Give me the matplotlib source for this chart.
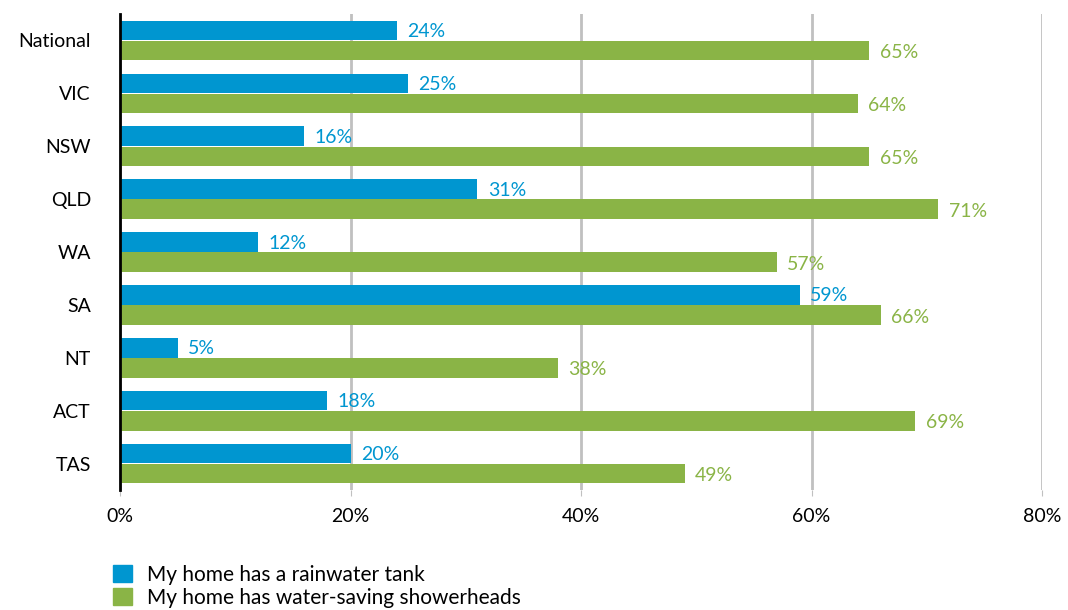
import matplotlib
matplotlib.use("Agg")
import matplotlib.pyplot as plt
import numpy as np
from matplotlib.patches import Patch

plt.rcParams['font.family'] = ['Lato', 'DejaVu Sans']

regions = ["National", "VIC", "NSW", "QLD", "WA", "SA", "NT", "ACT", "TAS"]
rainwater_tank = [24, 25, 16, 31, 12, 59, 5, 18, 20]
showerheads = [65, 64, 65, 71, 57, 66, 38, 69, 49]
x_ticks = [0, 20, 40, 60, 80]

blue = "#0096d0"
green = "#8ab446"

fig = plt.figure(figsize=(10.68, 6.10), dpi=100)
ax = fig.add_axes([0.1124, 0.1967, 0.8633, 0.7803])

y = np.arange(len(regions))
h = 0.37
off = 0.19

ax.barh(y - off, rainwater_tank, height=h, color=blue, zorder=3)
ax.barh(y + off, showerheads, height=h, color=green, zorder=3)

for yi, v in zip(y, rainwater_tank):
    ax.text(v + 0.9, yi - off + 0.02, f"{v}%", color=blue, fontsize=14,
            va="center", ha="left")
for yi, v in zip(y, showerheads):
    ax.text(v + 0.9, yi + off + 0.04, f"{v}%", color=green, fontsize=14,
            va="center", ha="left")

ax.set_xlim(0, 80)
ax.set_ylim(len(regions) - 0.5, -0.5)
ax.set_xticks(x_ticks)
ax.set_xticklabels([f"{t}%" for t in x_ticks], fontsize=14)
ax.set_yticks(y)
ax.set_yticklabels(regions, fontsize=14)
ax.tick_params(axis="y", length=0, pad=21)
ax.tick_params(axis="x", length=4, color="#c0c0c0", pad=9)

ax.grid(axis="x", color="#c0c0c0", linewidth=2, zorder=0)
for s in ["top", "right", "bottom"]:
    ax.spines[s].set_visible(False)
ax.spines["left"].set_linewidth(2)
ax.spines["left"].set_color("black")
ax.spines["left"].set_zorder(4)

handles = [Patch(color=blue, label="My home has a rainwater tank"),
           Patch(color=green, label="My home has water-saving showerheads")]
fig.legend(handles=handles, loc="upper left", bbox_to_anchor=(0.1058, 0.074),
           frameon=False, fontsize=15, handlelength=0.9, handleheight=0.9,
           handletextpad=0.75, labelspacing=0.15, borderaxespad=0, borderpad=0)

fig.savefig("out.png", dpi=100)
